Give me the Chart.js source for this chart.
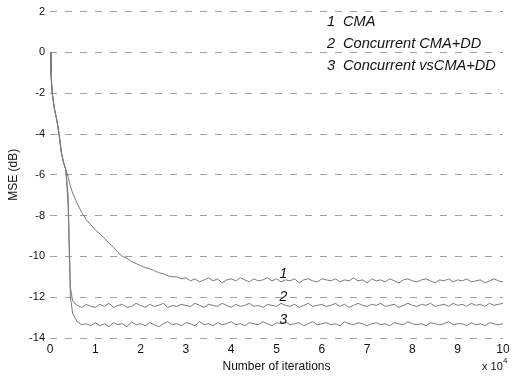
<!DOCTYPE html>
<html>
<head>
<meta charset="utf-8">
<script src="https://cdn.jsdelivr.net/npm/chart.js@4/dist/chart.umd.min.js"></script>
<style>
  html, body { margin: 0; padding: 0; background: #fff; }
  #wrap { width: 522px; height: 376px; position: relative; }
</style>
</head>
<body>
<div id="wrap"><canvas id="mseChart" width="522" height="376"></canvas></div>
<script>
/* ================= DATA (iterations in units of 10^4, MSE in dB) ================= */
const iters = [
  0, 0.02, 0.05, 0.1, 0.15, 0.2, 0.25, 0.3, 0.35, 0.4, 0.45, 0.5, 0.6, 0.7, 0.8, 0.9, 1.0,
  1.1, 1.2, 1.3, 1.4, 1.5, 1.6, 1.7, 1.8, 1.9, 2.0,
  2.1, 2.2, 2.3, 2.4, 2.5, 2.6, 2.7, 2.8, 2.9, 3.0,
  3.1, 3.2, 3.3, 3.4, 3.5, 3.6, 3.7, 3.8, 3.9, 4.0,
  4.1, 4.2, 4.3, 4.4, 4.5, 4.6, 4.7, 4.8, 4.9, 5.0,
  5.1, 5.2, 5.3, 5.4, 5.5, 5.6, 5.7, 5.8, 5.9, 6.0,
  6.1, 6.2, 6.3, 6.4, 6.5, 6.6, 6.7, 6.8, 6.9, 7.0,
  7.1, 7.2, 7.3, 7.4, 7.5, 7.6, 7.7, 7.8, 7.9, 8.0,
  8.1, 8.2, 8.3, 8.4, 8.5, 8.6, 8.7, 8.8, 8.9, 9.0,
  9.1, 9.2, 9.3, 9.4, 9.5, 9.6, 9.7, 9.8, 9.9, 10.0
];

const mseCMA = [
  0, -1.0, -2.0, -2.8, -3.3, -4.0, -4.9, -5.4, -5.75, -6.1, -6.55, -6.9, -7.4, -7.85, -8.2, -8.45, -8.7,
  -8.9, -9.1, -9.35, -9.55, -9.8, -10.0, -10.1, -10.25, -10.35, -10.45,
  -10.55, -10.6, -10.7, -10.8, -10.85, -10.95, -11.0, -11.0, -11.1, -11.05,
  -11.2, -11.1, -11.25, -11.15, -11.05, -11.2, -11.1, -11.3, -11.15, -11.1,
  -11.2, -11.05, -11.15, -11.25, -11.1, -11.2, -11.15, -11.05, -11.2, -11.1,
  -11.25, -11.15, -11.2, -11.1, -11.3, -11.15, -11.1, -11.2, -11.25, -11.1,
  -11.15, -11.2, -11.1, -11.25, -11.15, -11.2, -11.05, -11.2, -11.15, -11.3,
  -11.1, -11.2, -11.15, -11.25, -11.1, -11.2, -11.3, -11.15, -11.1, -11.2,
  -11.25, -11.15, -11.1, -11.2, -11.3, -11.15, -11.2, -11.1, -11.25, -11.15,
  -11.2, -11.1, -11.25, -11.2, -11.15, -11.3, -11.2, -11.1, -11.2, -11.25
];

const mseConcDD = [
  0, -1.0, -2.0, -2.8, -3.3, -4.0, -4.9, -5.4, -5.75, -7.0, -11.5, -12.2, -12.4, -12.5, -12.35, -12.45, -12.5,
  -12.35, -12.45, -12.3, -12.5, -12.4, -12.35, -12.5, -12.45, -12.3, -12.4,
  -12.5, -12.35, -12.45, -12.4, -12.3, -12.5, -12.4, -12.45, -12.35, -12.4,
  -12.45, -12.3, -12.4, -12.5, -12.35, -12.4, -12.45, -12.3, -12.4, -12.5,
  -12.35, -12.45, -12.4, -12.3, -12.45, -12.4, -12.5, -12.35, -12.4, -12.45,
  -12.3, -12.4, -12.45, -12.35, -12.5, -12.4, -12.3, -12.45, -12.4, -12.35,
  -12.45, -12.4, -12.3, -12.45, -12.35, -12.5, -12.4, -12.3, -12.4, -12.45,
  -12.35, -12.4, -12.3, -12.45, -12.4, -12.35, -12.5, -12.4, -12.3, -12.4,
  -12.45, -12.35, -12.4, -12.3, -12.45, -12.4, -12.35, -12.45, -12.3, -12.4,
  -12.35, -12.45, -12.3, -12.4, -12.35, -12.45, -12.3, -12.4, -12.35, -12.3
];

const mseConcVsDD = [
  0, -1.0, -2.0, -2.8, -3.3, -4.0, -4.9, -5.4, -5.75, -7.5, -12.0, -12.8, -13.2, -13.35, -13.3, -13.4, -13.25,
  -13.4, -13.3, -13.45, -13.25, -13.35, -13.3, -13.45, -13.2, -13.35, -13.3,
  -13.4, -13.25, -13.35, -13.45, -13.3, -13.2, -13.35, -13.3, -13.4, -13.25,
  -13.3, -13.4, -13.2, -13.35, -13.3, -13.4, -13.25, -13.35, -13.3, -13.2,
  -13.35, -13.3, -13.4, -13.25, -13.3, -13.35, -13.2, -13.3, -13.4, -13.25,
  -13.3, -13.2, -13.35, -13.3, -13.25, -13.4, -13.3, -13.2, -13.35, -13.3,
  -13.25, -13.35, -13.3, -13.4, -13.2, -13.3, -13.35, -13.25, -13.3, -13.4,
  -13.3, -13.25, -13.35, -13.3, -13.4, -13.25, -13.3, -13.35, -13.2, -13.3,
  -13.35, -13.3, -13.4, -13.25, -13.3, -13.35, -13.3, -13.2, -13.35, -13.3,
  -13.3, -13.4, -13.25, -13.35, -13.3, -13.4, -13.25, -13.3, -13.35, -13.3
];

const curveNums = ["1", "2", "3"];
const curveNames = ["CMA", "Concurrent CMA+DD", "Concurrent vsCMA+DD"];
const xTicks = [0, 1, 2, 3, 4, 5, 6, 7, 8, 9, 10];
const yTicks = [2, 0, -2, -4, -6, -8, -10, -12, -14];

/* ================= HELPERS ================= */
const FONT = "'Liberation Sans', Arial, Helvetica, sans-serif";
const toPts = ys => iters.map((x, i) => ({ x: x, y: ys[i] }));
const lineDs = ys => ({
  data: toPts(ys),
  borderColor: "#7a7a7a",
  borderWidth: 1,
  pointRadius: 0,
  tension: 0,
  fill: false
});

/* curve numbers on the curves, legend text, x10^4 note */
const annotPlugin = {
  id: "annot",
  afterDraw(chart) {
    const { ctx, scales: { x, y } } = chart;
    ctx.save();
    ctx.fillStyle = "#111";
    ctx.textBaseline = "middle";

    // numbers sitting on each curve
    ctx.font = "italic 14px " + FONT;
    ctx.textAlign = "center";
    const px = x.getPixelForValue(5.15);
    ctx.fillText(curveNums[0], px, y.getPixelForValue(-10.85));
    ctx.fillText(curveNums[1], px, y.getPixelForValue(-12.0));
    ctx.fillText(curveNums[2], px, y.getPixelForValue(-13.1));

    // numbered legend
    ctx.textAlign = "left";
    ctx.font = "italic 14.6px " + FONT;
    curveNames.forEach((name, i) => {
      const ty = 22 + i * 22;
      ctx.fillText(curveNums[i], 327, ty);
      ctx.fillText(name, 343, ty);
    });

    // x 10^4
    ctx.font = "11px " + FONT;
    ctx.textAlign = "left";
    ctx.fillText("x 10", 482, 367);
    ctx.font = "8px " + FONT;
    ctx.fillText("4", 503, 361);
    ctx.restore();
  }
};

/* ================= CHART ================= */
new Chart(document.getElementById("mseChart"), {
  type: "line",
  data: {
    datasets: [lineDs(mseCMA), lineDs(mseConcDD), lineDs(mseConcVsDD)]
  },
  plugins: [annotPlugin],
  options: {
    responsive: false,
    animation: false,
    layout: { padding: { top: 8, right: 19, left: 0, bottom: 0 } },
    plugins: { legend: { display: false }, tooltip: { enabled: false } },
    scales: {
      x: {
        type: "linear",
        min: 0, max: 10,
        afterBuildTicks: s => { s.ticks = xTicks.map(v => ({ value: v })); },
        afterFit: s => { s.height = 38; },
        grid: { display: false, drawTicks: false },
        border: { display: false },
        ticks: { color: "#111", font: { family: FONT, size: 12 }, padding: 4, maxRotation: 0 },
        title: {
          display: true,
          text: "Number of iterations",
          color: "#111",
          font: { family: FONT, size: 12 },
          padding: { top: 0, bottom: 2 }
        }
      },
      y: {
        min: -14, max: 2,
        afterBuildTicks: s => { s.ticks = yTicks.map(v => ({ value: v })); },
        afterFit: s => { s.width = 50; },
        grid: {
          color: "#a0a0a0",
          lineWidth: 1,
          drawTicks: false,
          tickBorderDash: [7, 8]
        },
        border: { display: false, dash: [7, 8] },
        ticks: { color: "#111", font: { family: FONT, size: 11 }, padding: 5 },
        title: {
          display: true,
          text: "MSE (dB)",
          color: "#111",
          font: { family: FONT, size: 12 },
          padding: { top: 6, bottom: 0 }
        }
      }
    }
  }
});
</script>
</body>
</html>
